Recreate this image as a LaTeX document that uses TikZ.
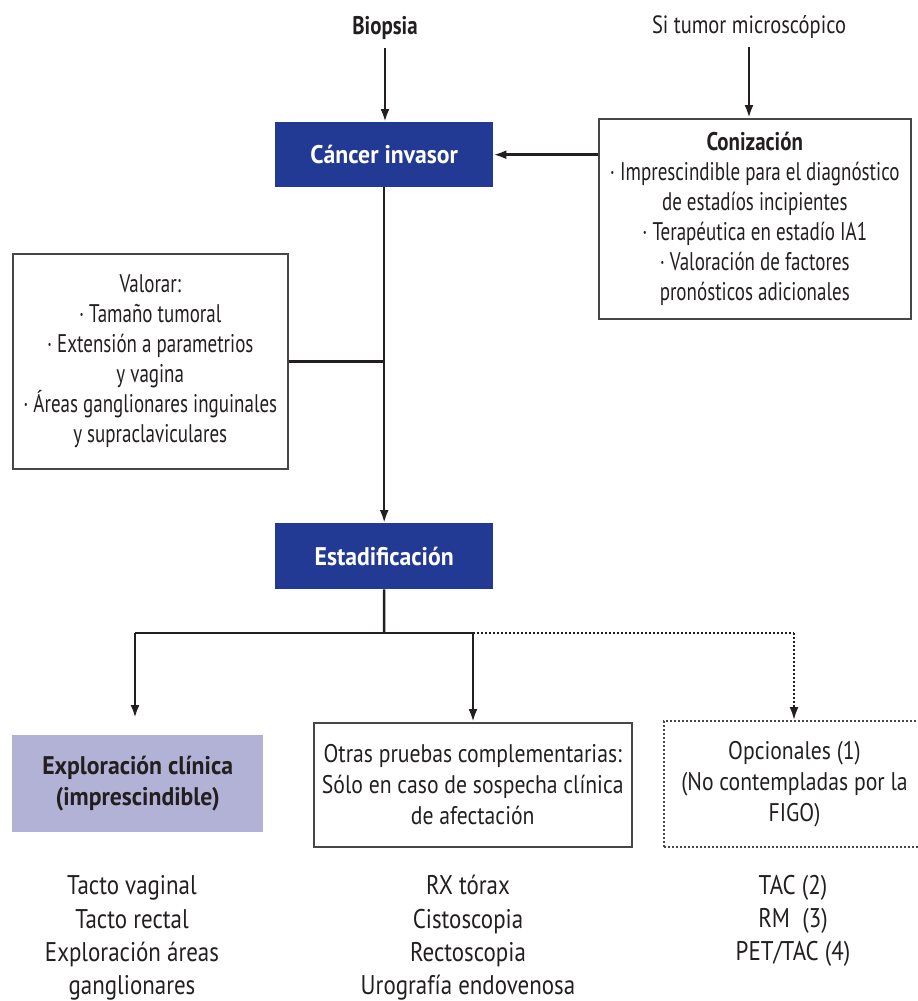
\documentclass[tikz,border=0pt]{standalone}
\usepackage{fontspec}
\setmainfont[FakeStretch=0.82]{PT Sans}
\newfontfamily\fa[FakeStretch=0.745]{PT Sans}
\newfontfamily\fb[FakeStretch=0.85]{PT Sans}
\newfontfamily\fc[FakeStretch=0.93]{PT Sans}
\usetikzlibrary{arrows.meta,calc}
\definecolor{dblue}{RGB}{34,58,148}
\definecolor{lav}{RGB}{178,178,214}
\definecolor{txt}{RGB}{35,31,32}
\definecolor{bord}{RGB}{70,70,70}
\tikzset{
  base/.style={align=center, inner sep=0pt, text=txt, font=\fontsize{25}{30}\selectfont},
  lbl/.style={base},
  box/.style={base, draw=bord, line width=1.5pt, anchor=north west},
  upbox/.style={box, font=\fa\fontsize{25.5}{30}\selectfont},
  lowbox/.style={box, font=\fb\fontsize{25.5}{31}\selectfont},
  bluebox/.style={base, fill=dblue, text=white, font=\fc\bfseries\fontsize{25.5}{30}\selectfont, anchor=north west},
  lavbox/.style={base, fill=lav, font=\fc\bfseries\fontsize{25.5}{31}\selectfont, anchor=north west},
  dotbox/.style={lowbox, line width=2pt, dash pattern=on 2pt off 2pt},
  conn/.style={line width=2.5pt, draw=txt},
  arr/.style={conn, -{Latex[length=13pt,width=9pt]}},
  dotarr/.style={line width=2pt, draw=txt, dash pattern=on 2pt off 2pt, -{Latex[length=13pt,width=9pt]}},
  list/.style={base, font=\fb\fontsize{27}{33.3}\selectfont}
}
\begin{document}
\begin{tikzpicture}[x=1pt,y=-1pt]
\useasboundingbox (0,0) rectangle (918,1001);
\clip (0,0) rectangle (918,1001);
\node[lbl, font=\bfseries\fontsize{25.5}{30}\selectfont] (bio) at (385,28) {Biopsia};
\node[lbl] (tum) at (749,27) {Si tumor microscópico};
\node[bluebox, minimum width=218, minimum height=65] (canc) at (275,122) {Cáncer invasor};
\node[upbox, minimum width=312, minimum height=200] (conz) at (598,118) {{\rmfamily\bfseries Conización}\\· Imprescindible para el diagnóstico\\de estadíos incipientes\\· Terapéutica en estadío IA1\\· Valoración de factores\\pronósticos adicionales};
\node[upbox, minimum width=275, minimum height=215] (val) at (12,253) {Valorar:\\· Tamaño tumoral\\· Extensión a parametrios\\y vagina\\· Áreas ganglionares inguinales\\y supraclaviculares};
\node[bluebox, minimum width=218, minimum height=66] (est) at (275,523) {Estadificación};
\node[lavbox, minimum width=251, minimum height=97] (expl) at (12,735) {Exploración clínica\\(imprescindible)};
\node[lowbox, minimum width=318, minimum height=124] (otr) at (313,722) {Otras pruebas complementarias:\\Sólo en caso de sospecha clínica\\de afectación};
\node[dotbox, minimum width=261, minimum height=126] (opc) at (663,720) {Opcionales (1)\\(No contempladas por la\\FIGO)};
\node[list] (l1) at (132,938) {Tacto vaginal\\Tacto rectal\\Exploración áreas\\ganglionares};
\node[list] (l2) at (468,938) {RX tórax\\Cistoscopia\\Rectoscopia\\Urografía endovenosa};
\node[list] (l3) at (793,921) {TAC (2)\\RM~ (3)\\PET/TAC (4)};
\coordinate (br) at (384,633);
\coordinate (b1) at (135,633);
\coordinate (b2) at (473,633);
\coordinate (b3) at (794,633);
\draw[arr] ([yshift=-8pt]bio.south) -- (bio.south |- canc.north);
\draw[arr] ([yshift=-8pt]tum.south) -- (tum.south |- conz.north);
\draw[arr] (conz.west |- canc.east) -- (canc.east);
\draw[arr] (canc.south) -- (est.north);
\draw[conn] (val.east) -- (val.east -| canc.south);
\draw[conn] (est.south) -- (br);
\draw[conn] (b1) -- (b2);
\draw[arr, shorten >=17pt] (b1) -- (b1 |- expl.north);
\draw[arr] (b2) -- (b2 |- otr.north);
\draw[line width=2pt, draw=txt, dash pattern=on 2pt off 2pt] (b2) -- (b3);
\draw[dotarr] (b3) -- (b3 |- opc.north);
\end{tikzpicture}
\end{document}
